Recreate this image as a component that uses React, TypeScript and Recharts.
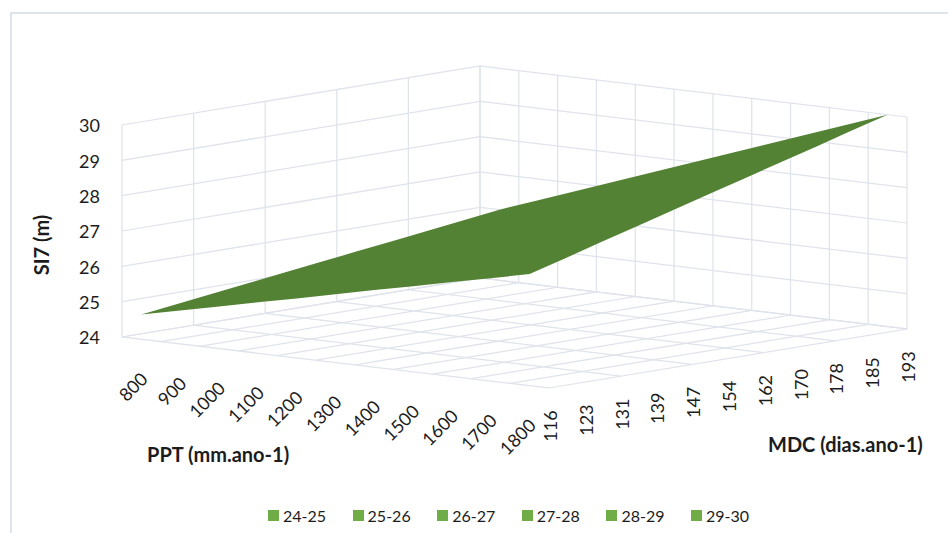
import React from "react";
import { ComposedChart, Scatter, XAxis, YAxis, Legend } from "recharts";

const pptCategories = [800, 900, 1000, 1100, 1200, 1300, 1400, 1500, 1600, 1700, 1800];
const mdcCategories = [116, 123, 131, 139, 147, 154, 162, 170, 178, 185, 193];
const si7Ticks = [24, 25, 26, 27, 28, 29, 30];
const legendBands = ["24-25", "25-26", "26-27", "27-28", "28-29", "29-30"];

const si7AtMdc116 = [24.7, 24.95, 25.19, 25.44, 25.68, 25.93, 26.18, 26.42, 26.67, 26.91, 27.16];
const si7AtMdc193 = [26.0, 26.4, 26.8, 27.2, 27.6, 28.0, 28.4, 28.8, 29.2, 29.6, 30.0];
const si7AtPpt800 = [24.7, 24.83, 24.96, 25.09, 25.22, 25.35, 25.48, 25.61, 25.74, 25.87, 26.0];
const si7AtPpt1800 = [27.16, 27.44, 27.73, 28.01, 28.3, 28.58, 28.86, 29.15, 29.43, 29.72, 30.0];

const W = 948;
const H = 533;
const PLOT_LEFT = 104;
const UNIT = 35.33; // pixels per metre of SI7
const FONT = "Lato, sans-serif";
const GRID = "#DFE3EB";
const TEXT = "#1c1c1c";

// oblique projection of the box: t along PPT, s along MDC (both 0..1), z in metres
const proj = (t: number, s: number, z: number) => ({
  x: 122 + t * 427 + s * 358,
  y: z - (t * 51 - s * 59) / UNIT,
});
const pptT = (i: number) => (i + 0.5) / pptCategories.length;
const mdcS = (j: number) => j / (mdcCategories.length - 1);

const zMin = si7Ticks[0];
const zMax = si7Ticks[si7Ticks.length - 1];

const gridSegments: { x: number; y: number }[][] = [];
// left wall + back wall horizontals
si7Ticks.forEach((z) => {
  gridSegments.push([proj(0, 0, z), proj(0, 1, z), proj(1, 1, z)]);
});
// left wall verticals + floor lines along PPT
for (let j = 0; j < mdcCategories.length; j += 2) {
  const s = mdcS(j);
  gridSegments.push([proj(0, s, zMax), proj(0, s, zMin), proj(1, s, zMin)]);
}
// back wall verticals + floor lines along MDC
for (let i = 0; i <= pptCategories.length; i++) {
  const t = i / pptCategories.length;
  gridSegments.push([proj(t, 0, zMin), proj(t, 1, zMin), proj(t, 1, zMax)]);
}

const surfaceOutline = [
  ...si7AtMdc116.map((z, i) => proj(pptT(i), 0, z)),
  ...si7AtPpt1800.map((z, j) => proj(pptT(10), mdcS(j), z)),
  ...si7AtMdc193.map((z, i) => proj(pptT(i), 1, z)).reverse(),
  ...si7AtPpt800.map((z, j) => proj(pptT(0), mdcS(j), z)).reverse(),
];

const pptLabels = pptCategories.map((v, i) => ({ ...proj(pptT(i), 0, zMin), label: String(v) }));
const mdcLabels = mdcCategories.map((v, j) => ({ ...proj(1, mdcS(j), zMin), label: String(v) }));

const noDot = () => null;

const PptTick = (p: any) => (
  <text
    x={p.cx + 2.5}
    y={p.cy + 36}
    textAnchor="end"
    dominantBaseline="central"
    fontFamily={FONT}
    fontSize={18}
    fill={TEXT}
    transform={`rotate(-45 ${p.cx + 2.5} ${p.cy + 36})`}
  >
    {p.payload.label}
  </text>
);

const MdcTick = (p: any) => (
  <text
    x={p.cx + 1}
    y={p.cy + 38}
    textAnchor="middle"
    dominantBaseline="central"
    fontFamily={FONT}
    fontSize={18}
    fill={TEXT}
    transform={`rotate(-90 ${p.cx + 1} ${p.cy + 38})`}
  >
    {p.payload.label}
  </text>
);

const LegendContent = (props: any) => (
  <div style={{ display: "flex", paddingLeft: 268, width: W, boxSizing: "border-box", whiteSpace: "nowrap", fontFamily: FONT, fontSize: 16, color: TEXT }}>
    {(props.payload || []).map((e: any) => (
      <div key={e.value} style={{ flex: "0 0 84.6px", display: "flex", alignItems: "center", height: 22 }}>
        <span style={{ flex: "0 0 11px", height: 11, background: e.color, marginRight: 4 }} />
        <span>{e.value}</span>
      </div>
    ))}
  </div>
);

const title = { fontFamily: FONT, fontSize: 20, fontWeight: 700, fill: TEXT } as const;

export default function App() {
  const yLow = zMin - (H - 337) / UNIT;
  const yHigh = zMax + 125 / UNIT;
  return (
    <div style={{ position: "absolute", left: 0, top: 0, width: W, height: H, overflow: "hidden", background: "#fff" }}>
      <div
        style={{
          position: "absolute",
          left: 10,
          top: 12,
          right: 0,
          bottom: 0,
          borderLeft: `2px solid ${GRID}`,
          borderTop: `2px solid ${GRID}`,
        }}
      />
      <ComposedChart width={W} height={H} margin={{ top: 0, right: 0, bottom: 0, left: 0 }} style={{ position: "absolute", left: 0, top: 0 }}>
        <XAxis type="number" dataKey="x" domain={[PLOT_LEFT, W]} hide />
        <YAxis
          type="number"
          dataKey="y"
          domain={[yLow, yHigh]}
          ticks={si7Ticks}
          width={PLOT_LEFT}
          axisLine={false}
          tickLine={false}
          tickSize={0}
          tickMargin={4}
          interval={0}
          tick={{ fontFamily: FONT, fontSize: 18, fill: TEXT, dy: 1 }}
        />
        {gridSegments.map((seg, k) => (
          <Scatter
            key={`g${k}`}
            data={seg}
            line={{ stroke: GRID, strokeWidth: 1.25 }}
            shape={noDot}
            legendType="none"
            isAnimationActive={false}
          />
        ))}
        <Scatter
          data={surfaceOutline}
          line={{ stroke: "none", fill: "#548235" }}
          shape={noDot}
          legendType="none"
          isAnimationActive={false}
        />
        <Scatter data={pptLabels} shape={PptTick} legendType="none" isAnimationActive={false} />
        <Scatter data={mdcLabels} shape={MdcTick} legendType="none" isAnimationActive={false} />
        {legendBands.map((b) => (
          <Scatter key={b} name={b} data={[]} fill="#70AD47" legendType="square" isAnimationActive={false} />
        ))}
        <Legend
          verticalAlign="middle"
          width={W}
          content={LegendContent}
          wrapperStyle={{ left: 0, top: 504, bottom: "auto", width: W }}
        />
        <text x={147} y={462} {...title}>PPT (mm.ano-1)</text>
        <text x={768} y={452} {...title}>MDC (dias.ano-1)</text>
        <text x={49} y={245} textAnchor="middle" transform="rotate(-90 49 245)" {...title}>SI7 (m)</text>
      </ComposedChart>
    </div>
  );
}
